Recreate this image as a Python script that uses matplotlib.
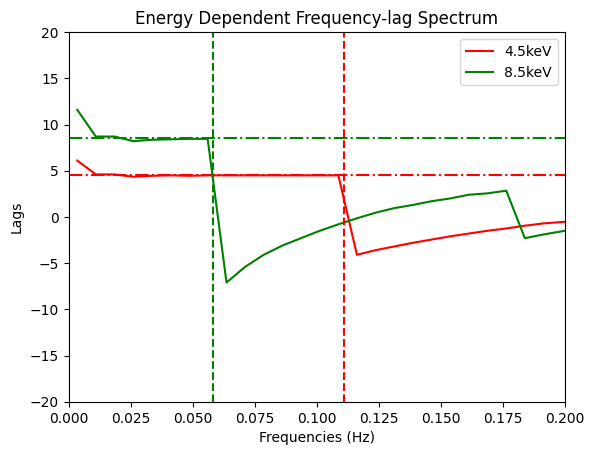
import matplotlib
matplotlib.use("Agg")
import matplotlib.pyplot as plt

# frequencies (Hz)
freqs = [0.0035, 0.0110, 0.0185, 0.0261, 0.0336, 0.0411, 0.0486, 0.0561,
         0.0637, 0.0712, 0.0787, 0.0862, 0.0937, 0.1013, 0.1088, 0.1163,
         0.1238, 0.1313, 0.1389, 0.1464, 0.1539, 0.1614, 0.1689, 0.1765,
         0.1840, 0.1915, 0.1990, 0.2065]

# lags for each energy band
lags_45 = [6.1, 4.6, 4.6, 4.35, 4.45, 4.5, 4.45, 4.5,
           4.5, 4.5, 4.5, 4.5, 4.5, 4.5, 4.5, -4.1,
           -3.6, -3.2, -2.8, -2.45, -2.1, -1.8, -1.5, -1.25,
           -0.95, -0.7, -0.55, -0.4]
lags_85 = [11.6, 8.7, 8.7, 8.2, 8.35, 8.4, 8.45, 8.45,
           -7.1, -5.4, -4.1, -3.1, -2.3, -1.5, -0.8, -0.15,
           0.46, 0.95, 1.3, 1.7, 2.0, 2.4, 2.55, 2.84,
           -2.3, -1.9, -1.55, -1.2]

labels = ["4.5keV", "8.5keV"]
mean_lags = [4.5, 8.5]
cutoffs = [0.1109, 0.0581]

fig, ax = plt.subplots(figsize=(6.4, 4.8))
ax.plot(freqs, lags_45, color="red", label=labels[0])
ax.plot(freqs, lags_85, color="green", label=labels[1])

ax.axhline(mean_lags[0], color="red", linestyle="-.")
ax.axhline(mean_lags[1], color="green", linestyle="-.")
ax.axvline(cutoffs[0], color="red", linestyle="--")
ax.axvline(cutoffs[1], color="green", linestyle="--")

ax.set_xlim(0, 0.2)
ax.set_ylim(-20, 20)
ax.set_title("Energy Dependent Frequency-lag Spectrum")
ax.set_xlabel("Frequencies (Hz)")
ax.set_ylabel("Lags")
ax.legend(loc="upper right")

fig.savefig("out.png", bbox_inches="tight")
